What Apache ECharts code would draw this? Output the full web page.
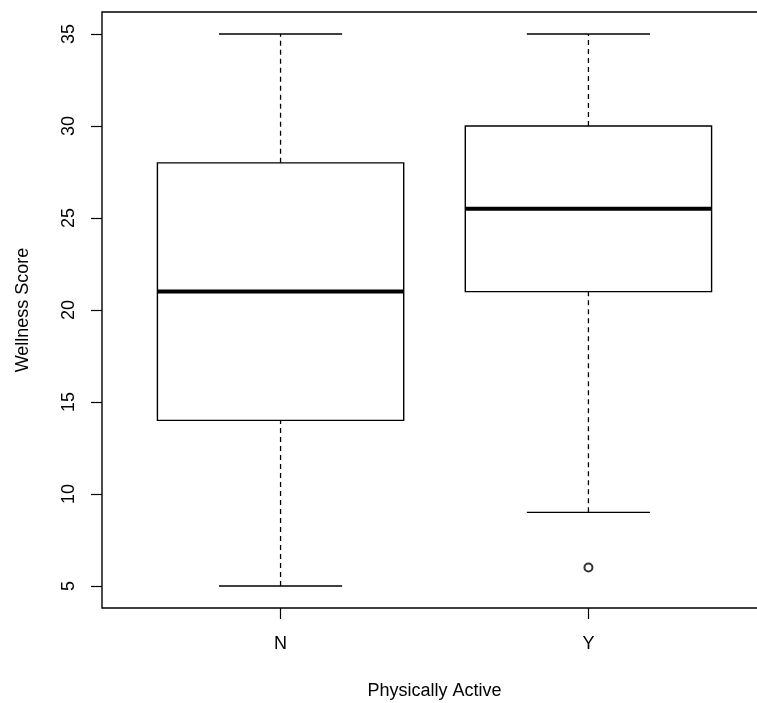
<!DOCTYPE html>
<html>
<head>
<meta charset="utf-8">
<script src="https://cdn.jsdelivr.net/npm/echarts@6/dist/echarts.min.js"></script>
<style>
  html, body { margin: 0; padding: 0; background: #fff; overflow: hidden; }
  #chart { width: 757px; height: 703px; }
</style>
</head>
<body>
<div id="chart"></div>
<script>
// ---- data ----
const categories = ['N', 'Y'];
const lowWhisker = [5, 9];
const lowerQuartile = [14, 21];
const medians = [21, 25.5];
const upperQuartile = [28, 30];
const highWhisker = [35, 35];
const outlierCategory = ['Y'];
const outlierValues = [6];
const yTickValues = [5, 10, 15, 20, 25, 30, 35];

// ---- build ----
const catPos = categories.map((c, i) => i + 1);
const boxData = categories.map((c, i) => [
  catPos[i], lowWhisker[i], lowerQuartile[i], medians[i], upperQuartile[i], highWhisker[i]
]);
const outlierData = outlierValues.map((v, i) => [categories.indexOf(outlierCategory[i]) + 1, v]);

const FONT = "'Liberation Sans', Arial, sans-serif";
const INK = '#000';

function renderItem(params, api) {
  const x = api.value(0);
  const lo = api.value(1), q1 = api.value(2), med = api.value(3), q3 = api.value(4), hi = api.value(5);
  const pLo = api.coord([x, lo]);
  const pQ1 = api.coord([x, q1]);
  const pMed = api.coord([x, med]);
  const pQ3 = api.coord([x, q3]);
  const pHi = api.coord([x, hi]);
  const bl = api.coord([x - 0.4, q1])[0];
  const br = api.coord([x + 0.4, q1])[0];
  const sl = api.coord([x - 0.2, q1])[0];
  const sr = api.coord([x + 0.2, q1])[0];
  const solid = { stroke: INK, lineWidth: 1.4, fill: null };
  const dashed = { stroke: INK, lineWidth: 1.3, lineDash: [5, 4], fill: null };
  return {
    type: 'group',
    children: [
      { type: 'line', shape: { x1: pLo[0], y1: pLo[1], x2: pQ1[0], y2: pQ1[1] }, style: dashed },
      { type: 'line', shape: { x1: pQ3[0], y1: pQ3[1], x2: pHi[0], y2: pHi[1] }, style: dashed },
      { type: 'line', shape: { x1: sl, y1: pLo[1], x2: sr, y2: pLo[1] }, style: solid },
      { type: 'line', shape: { x1: sl, y1: pHi[1], x2: sr, y2: pHi[1] }, style: solid },
      { type: 'rect', shape: { x: bl, y: pQ3[1], width: br - bl, height: pQ1[1] - pQ3[1] }, style: { stroke: INK, lineWidth: 1.4, fill: '#fff' } },
      { type: 'line', shape: { x1: bl, y1: pMed[1], x2: br, y2: pMed[1] }, style: { stroke: INK, lineWidth: 4 } }
    ]
  };
}

const chart = echarts.init(document.getElementById('chart'), null, { renderer: 'canvas' });
chart.setOption({
  animation: false,
  backgroundColor: '#fff',
  textStyle: { fontFamily: FONT },
  grid: {
    left: 102, top: 12, width: 665, height: 596,
    containLabel: false, outerBoundsMode: 'none',
    show: true, borderColor: INK, borderWidth: 1.4, backgroundColor: 'transparent'
  },
  xAxis: {
    type: 'value', min: 0.42, max: 2.58,
    name: 'Physically Active', nameLocation: 'middle', nameGap: 74,
    nameTextStyle: { fontSize: 18, color: INK, fontFamily: FONT },
    axisLine: { show: false },
    splitLine: { show: false },
    axisTick: { show: true, length: 11, customValues: catPos, lineStyle: { color: INK, width: 1.2 } },
    axisLabel: {
      show: true, customValues: catPos, margin: 27, fontSize: 18, color: INK, fontFamily: FONT,
      formatter: v => categories[Math.round(v) - 1] || ''
    }
  },
  yAxis: {
    type: 'value', min: 3.8, max: 36.2,
    name: 'Wellness Score', nameLocation: 'middle', nameGap: 70, nameRotate: 90,
    nameTextStyle: { fontSize: 18, color: INK, fontFamily: FONT },
    axisLine: { show: false },
    splitLine: { show: false },
    axisTick: { show: true, length: 11, customValues: yTickValues, lineStyle: { color: INK, width: 1.2 } },
    axisLabel: {
      show: true, customValues: yTickValues, rotate: 90, margin: 24, fontSize: 18, color: INK, fontFamily: FONT
    }
  },
  series: [
    {
      type: 'custom', renderItem: renderItem, data: boxData,
      encode: { x: 0, y: [1, 2, 3, 4, 5] }, silent: true, clip: false
    },
    {
      type: 'scatter', data: outlierData, symbol: 'emptyCircle', symbolSize: 8,
      itemStyle: { color: INK, borderColor: INK, borderWidth: 1.2 }, silent: true
    }
  ]
});
</script>
</body>
</html>
